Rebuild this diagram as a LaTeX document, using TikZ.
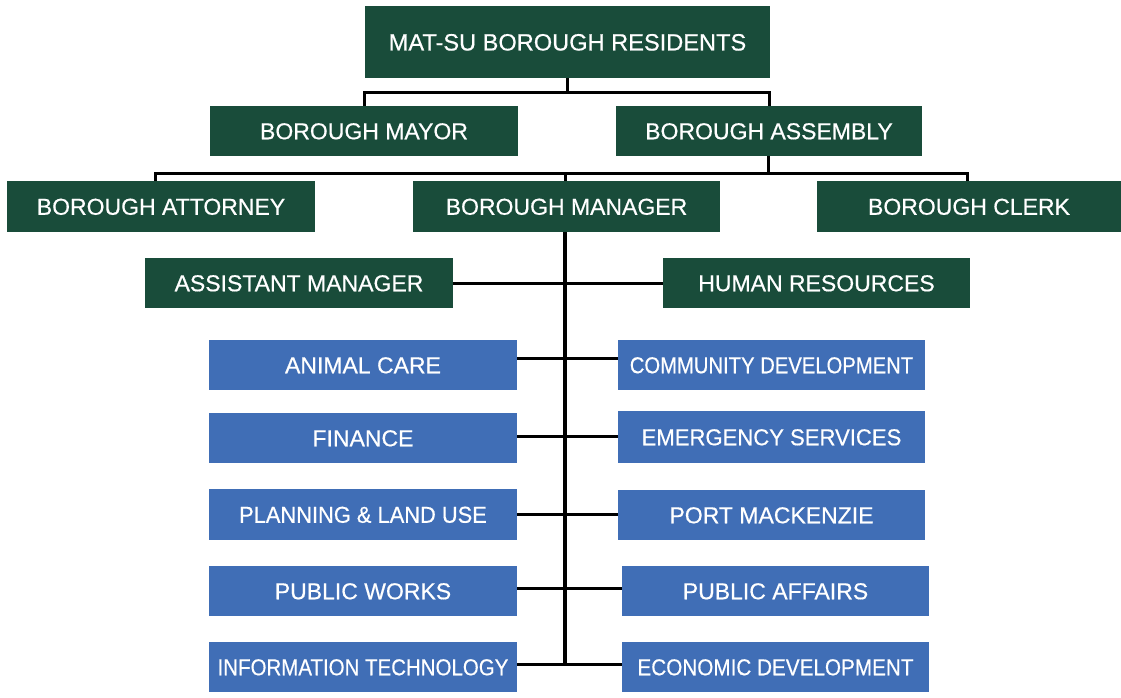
\documentclass[tikz,border=0pt]{standalone}
\usepackage{fontspec}
\setmainfont{Liberation Sans}
\newfontface\medf{Liberation Sans}[FakeBold=0.5]
\usetikzlibrary{calc}
\definecolor{mgreen}{RGB}{25,76,58}
\definecolor{mblue}{RGB}{64,110,182}
\newcommand{\sxs}[2]{\scalebox{#1}[1]{#2}}
\tikzset{
  box/.style={rectangle, inner sep=0pt, text=white, font=\medf\fontsize{23}{25}\selectfont,
    text height=16.5pt, text depth=0pt, align=center, minimum width=308pt, minimum height=50pt},
  gbox/.style={box, fill=mgreen},
  bbox/.style={box, fill=mblue},
  conn/.style={draw=black, line width=3pt},
  trunk/.style={draw=black, line width=3.8pt}
}
\begin{document}
\begin{tikzpicture}[x=1pt,y=-1pt]
\useasboundingbox (0,0) rectangle (1121,698);
% green boxes
\node[gbox, minimum width=405pt, minimum height=72pt, font=\medf\fontsize{23.6}{25}\selectfont, text height=17pt] (res) at (567.5,42) {MAT-SU BOROUGH RESIDENTS};
\node[gbox] (mayor) at (364,131) {BOROUGH MAYOR};
\node[gbox, minimum width=306pt] (assembly) at (769,131) {BOROUGH ASSEMBLY};
\node[gbox, minimum height=51pt] (attorney) at (161,206.5) {BOROUGH ATTORNEY};
\node[gbox, minimum width=307pt, minimum height=51pt] (manager) at (566.5,206.5) {BOROUGH MANAGER};
\node[gbox, minimum width=304pt, minimum height=51pt] (clerk) at (969,206.5) {BOROUGH CLERK};
\node[gbox] (asst) at (299,283) {ASSISTANT MANAGER};
\node[gbox, minimum width=307pt] (hr) at (816.5,283) {HUMAN RESOURCES};
% blue boxes
\node[bbox] (animal) at (363,365) {ANIMAL CARE};
\node[bbox, minimum width=307pt] (comm) at (771.5,365) {\sxs{0.88}{COMMUNITY DEVELOPMENT}};
\node[bbox] (finance) at (363,438) {FINANCE};
\node[bbox, minimum width=307pt, minimum height=52pt] (emerg) at (771.5,437) {\sxs{0.96}{EMERGENCY SERVICES}};
\node[bbox, minimum height=51pt] (planning) at (363,514.5) {\sxs{0.95}{PLANNING \& LAND USE}};
\node[bbox, minimum width=307pt] (port) at (771.5,515) {PORT MACKENZIE};
\node[bbox] (pubworks) at (363,591) {PUBLIC WORKS};
\node[bbox, minimum width=307pt] (pubaff) at (775.5,591) {PUBLIC AFFAIRS};
\node[bbox] (it) at (363,667) {\sxs{0.89}{INFORMATION TECHNOLOGY}};
\node[bbox, minimum width=307pt] (econ) at (775.5,667) {\sxs{0.9}{ECONOMIC DEVELOPMENT}};
% top connectors
\coordinate (j1) at (567,93);
\draw[conn] (res.south -| j1) -- (j1);
\draw[conn] (mayor.north) |- (j1) -| (assembly.north);
\coordinate (j2) at (768,173);
\draw[conn] (assembly.south -| j2) -- (j2);
\draw[conn] (attorney.north -| 155,0) |- (j2) -| (clerk.north -| 967,0);
\draw[conn] (manager.north -| 565,0) -- (565,173);
% trunk
\coordinate (tend) at (565,666);
\draw[trunk] (manager.south -| tend) -- (tend);
% rows
\draw[conn] (asst.east) -- (hr.west);
\draw[conn] ([yshift=7pt]animal.east) -- ([yshift=7pt]animal.east -| comm.west);
\draw[conn] ([yshift=2pt]finance.east) -- ([yshift=1pt]emerg.west);
\draw[conn] (planning.east) -- (planning.east -| port.west);
\draw[conn] ([yshift=3pt]pubworks.east) -- ([yshift=3pt]pubworks.east -| pubaff.west);
\draw[conn] ([yshift=3pt]it.east) -- ([yshift=3pt]it.east -| econ.west);
\end{tikzpicture}
\end{document}
